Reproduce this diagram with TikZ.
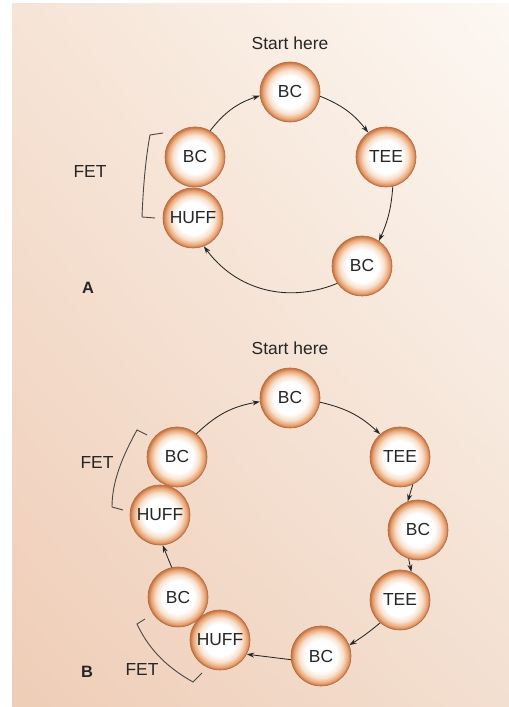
\documentclass[tikz,border=0pt]{standalone}
\usepackage{fontspec}
\setmainfont{Liberation Sans}
\usetikzlibrary{arrows.meta,shadings}
\definecolor{bgTL}{HTML}{F6E4D6}
\definecolor{bgTR}{HTML}{FDF8F3}
\definecolor{bgBL}{HTML}{EFCDB7}
\definecolor{bgBR}{HTML}{F3DFD0}
\definecolor{bl1}{HTML}{F7E0CC}
\definecolor{bl2}{HTML}{EBA676}
\definecolor{bl3}{HTML}{C87848}
\definecolor{rim}{HTML}{B06A40}
\definecolor{ink}{HTML}{262626}
\pgfdeclareradialshading{ballshade}{\pgfpoint{0bp}{0bp}}{color(0bp)=(white); color(13.5bp)=(white); color(18.5bp)=(bl1); color(22.5bp)=(bl2); color(24.6bp)=(bl3); color(25bp)=(bl3); color(50bp)=(bl3)}
\tikzset{
  ball/.style={circle, minimum size=60bp, inner sep=0pt, shading=ballshade, draw=rim, line width=0.6pt, text=ink, font=\fontsize{17.5}{20}\selectfont},
  lbl/.style={text=ink, font=\fontsize{17.5}{20}\selectfont, inner sep=0pt},
  panlbl/.style={text=ink, font=\fontsize{16.5}{20}\selectfont\bfseries, inner sep=0pt},
  arr/.style={draw=ink, line width=0.85pt, -{Stealth[length=7.5pt,width=5pt]}},
  brk/.style={draw=ink!85, line width=0.9pt}
}
\begin{document}
\begin{tikzpicture}[x=1bp,y=1bp]
\useasboundingbox (0,0) rectangle (509,707);
\fill[white] (0,0) rectangle (509,707);
\shade[upper left=bgTL, upper right=bgTR, lower left=bgBL, lower right=bgBR] (12,0) rectangle (509,703);
% Panel A
\node[lbl] (startA) at (290,664) {Start here};
\node[ball] (a1) at (290,615) {BC};
\node[ball] (a2) at (386,550) {TEE};
\node[ball] (a3) at (362,441) {BC};
\node[ball] (a5) at (195,550) {BC};
\node[ball] (a4) at (193,489) {HUFF};
\node[lbl] (fetA) at (90,535) {FET};
\node[panlbl] (labA) at (88,419) {A};
\draw[brk] (163,574) -- (150,572) .. controls (145,545) and (143,515) .. (142,490) -- (155,489);
\draw[arr] (a5.60) to[bend left=17] (a1.187);
\draw[arr] (a1.352) to[bend left=15] (a2.126);
\draw[arr] (a2.283) to[bend left=10] (a3.56);
\draw[arr] (a3.215) to[bend left=38] (a4.291);
% Panel B
\node[lbl] (startB) at (290,359) {Start here};
\node[ball] (b1) at (290,309) {BC};
\node[ball] (b2) at (400,250) {TEE};
\node[ball] (b3) at (418,177) {BC};
\node[ball] (b4) at (400,107) {TEE};
\node[ball] (b5) at (321,51) {BC};
\node[ball] (b7) at (178,110) {BC};
\node[ball] (b6) at (220,67) {HUFF};
\node[ball] (b9) at (177,250) {BC};
\node[ball] (b8) at (160,192) {HUFF};
\node[lbl] (fetB1) at (97,244) {FET};
\node[lbl] (fetB2) at (142,37) {FET};
\node[panlbl] (labB) at (87,35) {B};
\draw[brk] (147,272) -- (137,277) .. controls (122,250) and (112,225) .. (112,200) -- (123,197);
\draw[brk] (145,88) -- (137,83) .. controls (150,55) and (170,38) .. (193,25) -- (202,34);
\draw[arr] (b9.50) to[bend left=17] (b1.187);
\draw[arr] (b1.352) to[bend left=15] (b2.131);
\draw[arr] (b2.295) -- (b3.110);
\draw[arr] (b3.252) -- (b4.68);
\draw[arr] (b4.229) to[bend left=4] (b5.21);
\draw[arr] (b5.187) -- (b6.332);
\draw[arr] (b7.102) -- (b8.275);
\end{tikzpicture}
\end{document}
